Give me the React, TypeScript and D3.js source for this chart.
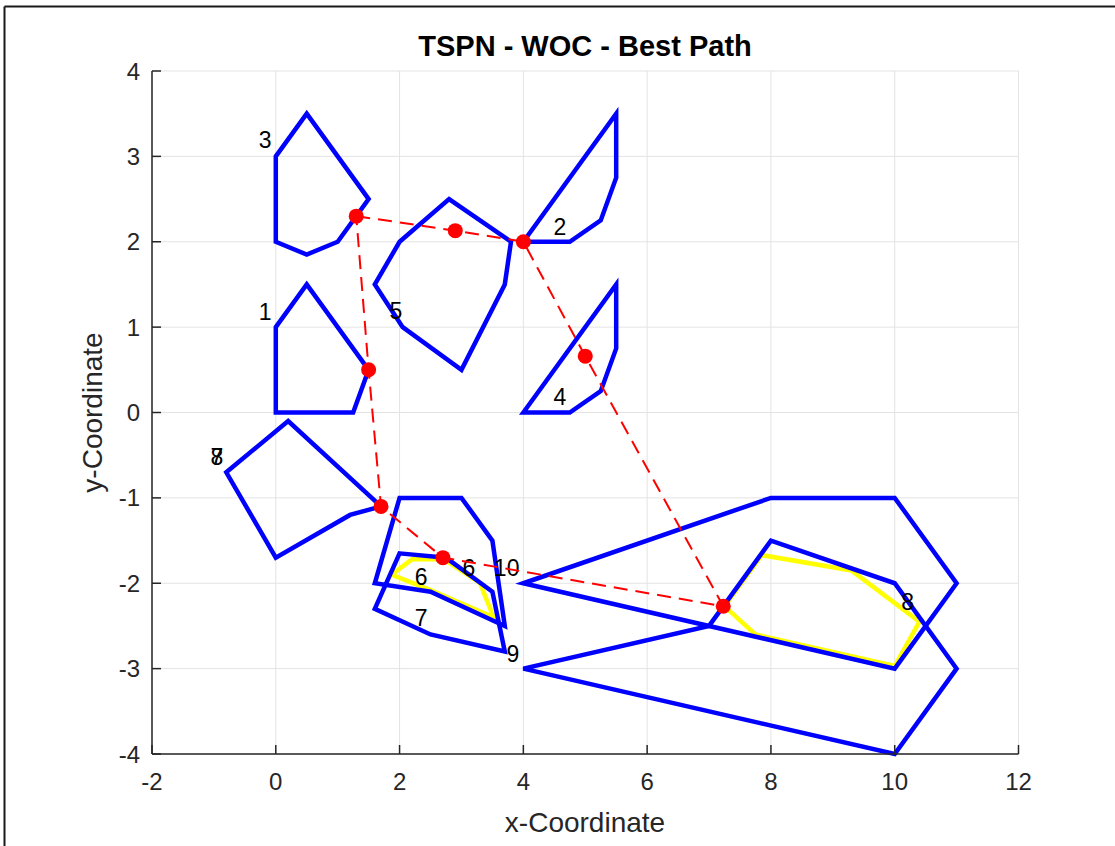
import React from "react";
import * as d3 from "d3";

// Region polygons (vertex lists in plot coordinates)
const poly1: [number, number][] = [[0, 1], [0.5, 1.5], [1.5, 0.5], [1.25, 0], [0, 0]];
const poly2: [number, number][] = [[4, 2], [5.5, 3.5], [5.5, 2.75], [5.25, 2.25], [4.75, 2]];
const poly3: [number, number][] = [[0, 3], [0.5, 3.5], [1.5, 2.5], [1, 2], [0.5, 1.85], [0, 2]];
const poly4: [number, number][] = [[4, 0], [5.5, 1.5], [5.5, 0.75], [5.25, 0.25], [4.75, 0]];
const poly5: [number, number][] = [[1.6, 1.5], [2, 2], [2.8, 2.5], [3.8, 2], [3.7, 1.5], [3, 0.5], [2.05, 1.0]];
const poly7: [number, number][] = [[-0.8, -0.7], [0.2, -0.1], [1.7, -1.1], [1.2, -1.2], [0, -1.7]];
const polyUpperMid: [number, number][] = [[2, -1], [3, -1], [3.5, -1.5], [3.7, -2.5], [2.5, -2.1], [1.6, -2.0]];
const polyLowerMid: [number, number][] = [[2, -1.65], [2.75, -1.7], [3.5, -2.1], [3.7, -2.8], [2.5, -2.6], [1.6, -2.3]];
const polyRightUpper: [number, number][] = [[4, -2], [8, -1], [10, -1], [11, -2], [10, -3]];
const polyRightLower: [number, number][] = [[4, -3], [7, -2.5], [8, -1.5], [10, -2], [11, -3], [10, -4]];

const bluePolys = [poly1, poly2, poly3, poly4, poly5, poly7, polyUpperMid, polyLowerMid, polyRightUpper, polyRightLower];

// Overlap regions highlighted in yellow
const yellowLeft: [number, number][] = [[1.87, -1.9], [2.2, -1.72], [2.72, -1.72], [3.3, -2.0], [3.52, -2.4], [2.5, -2.08]];
const yellowRight: [number, number][] = [[7.85, -1.67], [9.3, -1.85], [10.4, -2.45], [10, -2.97], [7.75, -2.6], [7.25, -2.27]];
const yellowPolys = [yellowLeft, yellowRight];

// Best tour through the regions (closed)
const tourX = [1.3, 2.9, 4.0, 5.0, 7.23, 2.7, 1.7, 1.5];
const tourY = [2.3, 2.13, 2.0, 0.66, -2.27, -1.7, -1.1, 0.5];

// Region labels
const labelText = ["3", "1", "2", "4", "5", "7", "8", "6", "6", "10", "7", "9", "8"];
const labelX = [-0.17, -0.17, 4.59, 4.59, 1.94, -0.95, -0.95, 2.35, 3.12, 3.73, 2.35, 3.83, 10.21];
const labelY = [3.19, 1.18, 2.17, 0.18, 1.19, -0.52, -0.52, -1.93, -1.82, -1.82, -2.41, -2.83, -2.22];

const xTicks = [-2, 0, 2, 4, 6, 8, 10, 12];
const yTicks = [-4, -3, -2, -1, 0, 1, 2, 3, 4];

const W = 1115;
const H = 846;
const FONT = "'Liberation Sans', Arial, Helvetica, sans-serif";

export default function App() {
  const x = d3.scaleLinear().domain([-2, 12]).range([152, 1018.5]);
  const y = d3.scaleLinear().domain([-4, 4]).range([754, 71]);
  const line = d3
    .line<[number, number]>()
    .x((d) => x(d[0]))
    .y((d) => y(d[1]))
    .curve(d3.curveLinearClosed);

  const tour: [number, number][] = tourX.map((v, i) => [v, tourY[i]]);
  const [x0, x1] = x.range();
  const [y0, y1] = y.range();

  return (
    <svg
      width={W}
      height={H}
      style={{ position: "absolute", left: 0, top: 0, background: "#fff" }}
      fontFamily={FONT}
    >
      {/* figure frame */}
      <line x1={4.5} y1={6.5} x2={W} y2={6.5} stroke="#1a1a1a" strokeWidth={2} />
      <line x1={4.5} y1={6.5} x2={4.5} y2={H} stroke="#1a1a1a" strokeWidth={2} />

      {/* grid */}
      {xTicks.map((t) => (
        <line key={"gx" + t} x1={x(t)} x2={x(t)} y1={y1} y2={y0} stroke="#e3e3e3" strokeWidth={1} />
      ))}
      {yTicks.map((t) => (
        <line key={"gy" + t} x1={x0} x2={x1} y1={y(t)} y2={y(t)} stroke="#e3e3e3" strokeWidth={1} />
      ))}

      {/* yellow overlap regions */}
      {yellowPolys.map((p, i) => (
        <path key={"yp" + i} d={line(p) || ""} fill="none" stroke="#ffff00" strokeWidth={4.5} />
      ))}

      {/* region polygons */}
      {bluePolys.map((p, i) => (
        <path key={"bp" + i} d={line(p) || ""} fill="none" stroke="#0000ff" strokeWidth={4.5} strokeLinejoin="miter" />
      ))}

      {/* labels */}
      {labelText.map((t, i) => (
        <text
          key={"lb" + i}
          x={x(labelX[i])}
          y={y(labelY[i])}
          textAnchor="middle"
          dominantBaseline="central"
          fontSize={23}
          fill="#000"
        >
          {t}
        </text>
      ))}

      {/* best path */}
      <path d={line(tour) || ""} fill="none" stroke="#ff0000" strokeWidth={2} strokeDasharray="14 8" />
      {tour.map((p, i) => (
        <circle key={"pt" + i} cx={x(p[0])} cy={y(p[1])} r={7.5} fill="#ff0000" />
      ))}

      {/* axes */}
      <line x1={x0} x2={x1} y1={y0} y2={y0} stroke="#262626" strokeWidth={1.5} />
      <line x1={x0} x2={x0} y1={y0} y2={y1} stroke="#262626" strokeWidth={1.5} />
      {xTicks.map((t) => (
        <g key={"xt" + t}>
          <line x1={x(t)} x2={x(t)} y1={y0} y2={y0 - 9} stroke="#262626" strokeWidth={1.5} />
          <text x={x(t)} y={y0 + 27} textAnchor="middle" dominantBaseline="central" fontSize={24} fill="#262626">
            {t}
          </text>
        </g>
      ))}
      {yTicks.map((t) => (
        <g key={"yt" + t}>
          <line x1={x0} x2={x0 + 9} y1={y(t)} y2={y(t)} stroke="#262626" strokeWidth={1.5} />
          <text x={x0 - 12} y={y(t)} textAnchor="end" dominantBaseline="central" fontSize={24} fill="#262626">
            {t}
          </text>
        </g>
      ))}

      {/* titles */}
      <text x={585} y={46} textAnchor="middle" dominantBaseline="central" fontSize={29} fontWeight="bold" fill="#000">
        TSPN - WOC - Best Path
      </text>
      <text x={585} y={822} textAnchor="middle" dominantBaseline="central" fontSize={28} fill="#262626">
        x-Coordinate
      </text>
      <text
        transform={`translate(92,${(y0 + y1) / 2}) rotate(-90)`}
        textAnchor="middle"
        dominantBaseline="central"
        fontSize={28}
        fill="#262626"
      >
        y-Coordinate
      </text>
    </svg>
  );
}
